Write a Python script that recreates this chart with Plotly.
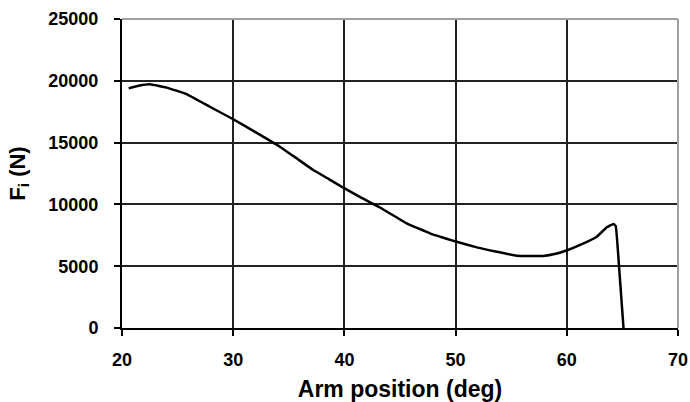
import plotly.graph_objects as go

arm_position_deg = [20.6, 21.5, 22.5, 24.0, 25.8, 27.9, 30.0, 32.0, 34.2, 35.7, 37.2,
                    38.6, 39.9, 41.5, 43.2, 45.6, 47.7, 50.1, 52.0, 53.7, 55.5, 57.9,
                    59.0, 60.1, 61.2, 62.7, 63.6, 64.2, 64.4, 64.7, 65.1]
force_N = [19390, 19600, 19720, 19450, 18930, 17900, 16890, 15850, 14670, 13730, 12780,
           12050, 11350, 10550, 9750, 8470, 7660, 6980, 6500, 6170, 5850, 5830,
           6000, 6310, 6720, 7390, 8150, 8420, 8250, 4960, 0]

x_ticks = [20, 30, 40, 50, 60, 70]
y_ticks = [0, 5000, 10000, 15000, 20000, 25000]

FONT = "Liberation Sans, Arial, sans-serif"

fig = go.Figure()
fig.add_trace(go.Scatter(x=arm_position_deg, y=force_N, mode="lines",
                         line=dict(color="black", width=2.5, shape="spline", smoothing=0.3),
                         showlegend=False))

axis_common = dict(showline=True, linecolor="black", linewidth=2,
                   ticks="outside", ticklen=6, tickwidth=1.5, tickcolor="black",
                   showgrid=True, gridcolor="#222222", gridwidth=1.5,
                   zeroline=False, automargin=False,
                   tickfont=dict(family=FONT, size=18, color="black", weight="bold"))

fig.update_layout(
    template="none",
    width=690, height=402,
    margin=dict(l=122, r=12, t=19, b=74),
    paper_bgcolor="white", plot_bgcolor="white",
    xaxis=dict(range=[20, 70], tickvals=x_ticks, ticktext=[str(v) for v in x_ticks],
               ticklabelstandoff=8,
               title=dict(text="<b>Arm position (deg)</b>", standoff=15,
                          font=dict(family=FONT, size=23, color="black")),
               **axis_common),
    yaxis=dict(range=[0, 25000], tickvals=y_ticks, ticktext=[str(v) for v in y_ticks],
               ticklabelstandoff=12,
               title=dict(text="<b>F<sub>i</sub> (N)</b>", standoff=17,
                          font=dict(family=FONT, size=22, color="black")),
               **axis_common),
    shapes=[
        dict(type="line", xref="paper", yref="paper", x0=0, x1=1, y0=1, y1=1,
             line=dict(color="#a0a0a0", width=2), layer="above"),
        dict(type="line", xref="paper", yref="paper", x0=1, x1=1, y0=0, y1=1,
             line=dict(color="#a0a0a0", width=2), layer="above"),
    ],
)

fig.write_html("out.html", config={"displayModeBar": False},
               post_script="document.body.style.margin='0';document.body.style.overflow='hidden';")
